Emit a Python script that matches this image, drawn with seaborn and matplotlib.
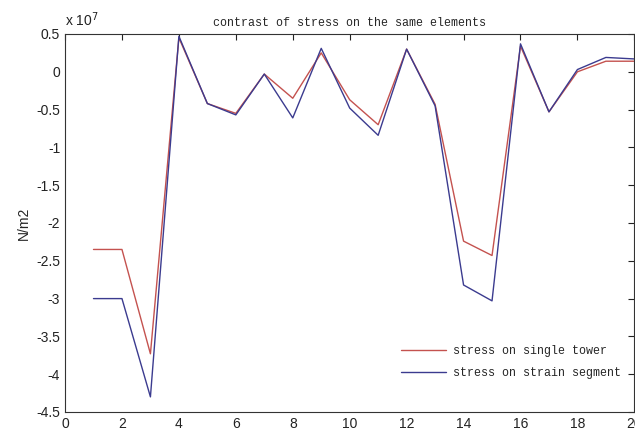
import numpy as np
import matplotlib
matplotlib.use('Agg')
import matplotlib.pyplot as plt
import matplotlib.ticker as mticker
import pandas as pd
import seaborn as sns

elements = list(range(1, 21))
single_tower = [-2.35e7, -2.35e7, -3.73e7, 0.45e7, -0.42e7, -0.55e7, -0.03e7, -0.35e7,
                0.25e7, -0.37e7, -0.70e7, 0.30e7, -0.43e7, -2.24e7, -2.43e7, 0.34e7,
                -0.53e7, 0.00e7, 0.14e7, 0.14e7]
strain_segment = [-3.00e7, -3.00e7, -4.30e7, 0.47e7, -0.42e7, -0.57e7, -0.03e7, -0.61e7,
                  0.31e7, -0.48e7, -0.84e7, 0.30e7, -0.45e7, -2.82e7, -3.03e7, 0.37e7,
                  -0.53e7, 0.03e7, 0.19e7, 0.17e7]
labels = ['stress on single tower', 'stress on strain segment']
colors = ['#c4524f', '#3b3b8f']


def build_frame():
    return pd.concat([
        pd.DataFrame({'element': elements, 'stress': single_tower, 'case': labels[0]}),
        pd.DataFrame({'element': elements, 'stress': strain_segment, 'case': labels[1]}),
    ])


def plot_data(data):
    sns.set_style('white')
    plt.rcParams['font.family'] = ['Liberation Sans', 'DejaVu Sans']
    fig = plt.figure(figsize=(6.35, 4.32), dpi=100)
    ax = fig.add_axes([0.1024, 0.0463, 0.8966, 0.875])
    sns.lineplot(data=data, x='element', y='stress', hue='case',
                 palette=colors, linewidth=1.0, ax=ax)

    ax.set_xlim(0, 20)
    ax.set_ylim(-4.5e7, 0.5e7)
    ax.set_xticks(np.arange(0, 21, 2))
    ax.set_yticks(np.arange(-4.5e7, 0.51e7, 0.5e7))
    ax.yaxis.set_major_formatter(mticker.FuncFormatter(lambda v, p: f'{v / 1e7:g}'))
    ax.tick_params(direction='in', top=True, right=True, length=4,
                   labelsize=10, colors='#222222', width=0.8)
    for s in ax.spines.values():
        s.set_color('#333333')
        s.set_linewidth(0.8)

    ax.set_xlabel('')
    ax.set_ylabel('N/m2', fontsize=10, labelpad=4)
    ax.set_title('contrast of stress on the same elements',
                 family='Liberation Mono', fontsize=8.4, pad=6)
    ax.text(0.0, 1.012, 'x 10$^7$', transform=ax.transAxes, fontsize=10,
            ha='left', va='bottom', color='#222222')

    ax.legend(loc='lower right', frameon=False,
              prop={'family': 'Liberation Mono', 'size': 8.4},
              handlelength=3.9, handletextpad=0.6, labelspacing=0.85,
              borderaxespad=0.0, bbox_to_anchor=(0.985, 0.074))
    fig.savefig('out.png', dpi=100)


plot_data(build_frame())
